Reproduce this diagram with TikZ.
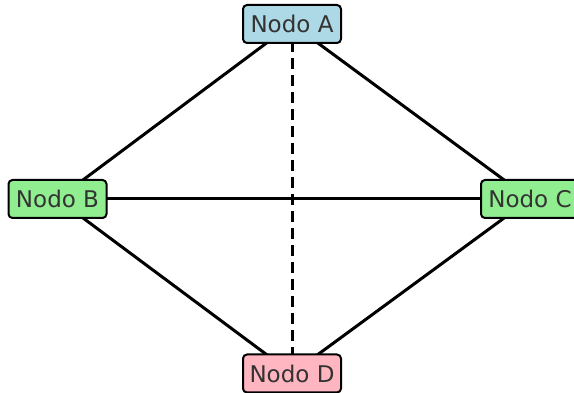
\documentclass[tikz,border=0pt]{standalone}
\usepackage{fontspec}
\setmainfont{DejaVu Sans}
\definecolor{nodoblue}{HTML}{ADD8E6}
\definecolor{nodogreen}{HTML}{90EE90}
\definecolor{nodopink}{HTML}{FFB6C1}
\definecolor{nodotext}{HTML}{333333}

\begin{document}
\begin{tikzpicture}[x=1pt,y=-1pt,
    nodo/.style={draw=black,line width=2pt,rounded corners=4pt,
      minimum width=98pt,minimum height=38pt,inner sep=0pt,
      text=nodotext,font=\fontsize{23}{25}\selectfont},
    edge/.style={line width=3pt,color=black},
    dashedge/.style={line width=3pt,color=black,dash pattern=on 11pt off 6pt}]
            \useasboundingbox (0,0) rectangle (574,393);
            \draw[edge] (292,24) coordinate(ca)--(57.5,199) coordinate(cb);
            \draw[edge] (ca)--(530,199) coordinate(cc);
            \draw[edge] (cb)--(cc);
            \draw[edge] (cb)--(292,373.5) coordinate(cd);
            \draw[edge] (cc)--(cd);
            \draw[dashedge] (ca)--(cd);
            \node[nodo,fill=nodoblue] (a) at (ca) {Nodo A};
            \node[nodo,fill=nodogreen] (b) at (cb) {Nodo B};
            \node[nodo,fill=nodogreen] (c) at (cc) {Nodo C};
            \node[nodo,fill=nodopink] (d) at (cd) {Nodo D};
        \end{tikzpicture}
\end{document}
